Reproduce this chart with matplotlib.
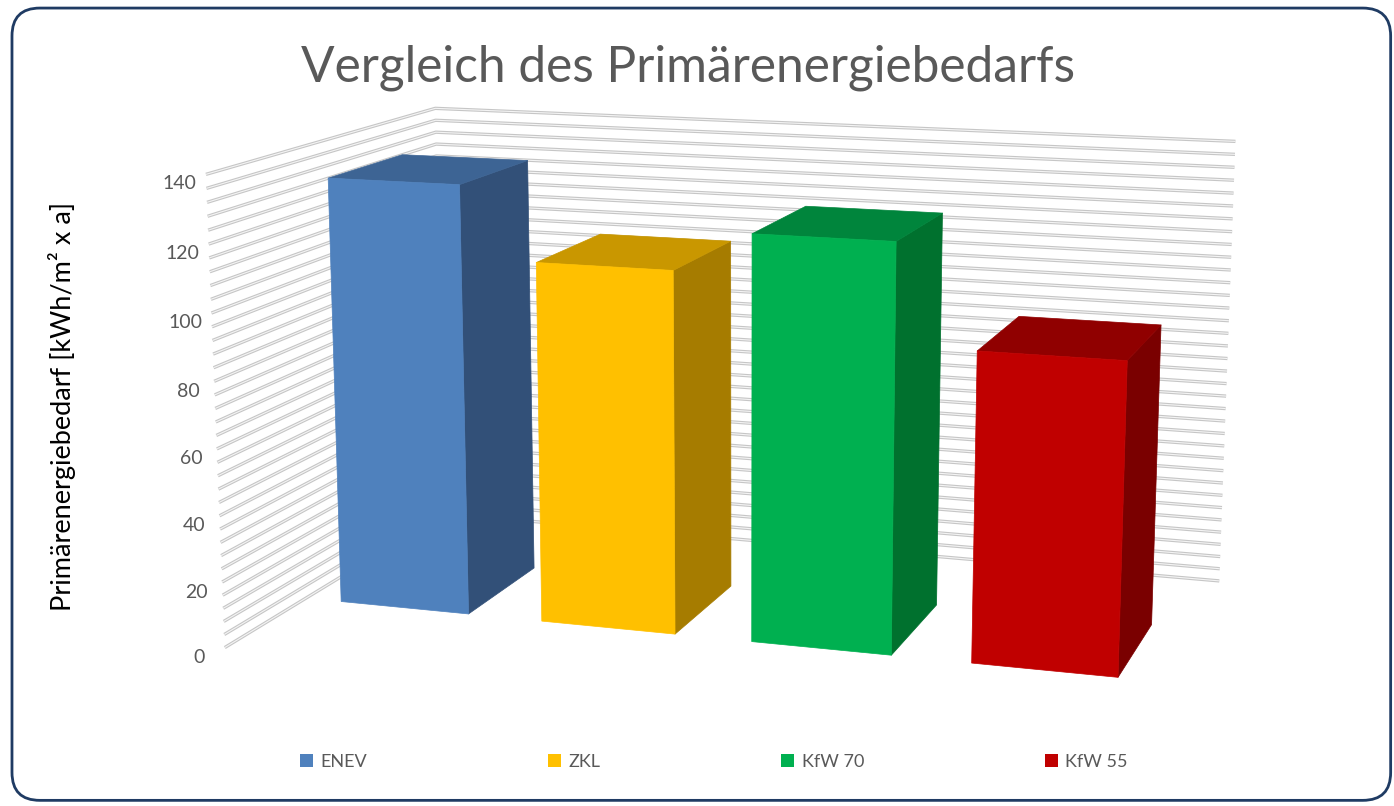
import numpy as np
import matplotlib.pyplot as plt
import matplotlib.patheffects as pe
from matplotlib.patches import FancyBboxPatch, Patch
from mpl_toolkits.mplot3d.art3d import Poly3DCollection

categories = ['ENEV', 'ZKL', 'KfW 70', 'KfW 55']
values = [132, 110, 122, 92]
front_colors = ['#4F81BD', '#FFC000', '#00B050', '#C00000']
top_colors = ['#3D6494', '#C99700', '#00853C', '#900000']
side_colors = ['#325078', '#A67C00', '#00712E', '#7A0000']
z_ticks = np.arange(0, 141, 4)

plt.rcParams['font.family'] = ['Lato', 'DejaVu Sans']
plt.rcParams['grid.color'] = '#F4F4F4'
plt.rcParams['grid.linewidth'] = 0.8

fig = plt.figure(figsize=(13.94, 8.06), dpi=100)

# rounded chart border
fig.patches.append(FancyBboxPatch((0.0086, 0.007), 0.989, 0.983,
                                  boxstyle='round,pad=0,rounding_size=0.02',
                                  mutation_aspect=1394 / 806,
                                  transform=fig.transFigure, fill=False,
                                  edgecolor='#1F3B63', linewidth=2))

fig.text(0.4935, 0.916, 'Vergleich des Primärenergiebedarfs', ha='center', va='center',
         fontsize=35.7, color='#595959')
fig.text(0.0445, 0.496, 'Primärenergiebedarf [kWh/m² x a]', rotation=90,
         ha='center', va='center', fontsize=19.5, color='black')

ax = fig.add_axes([0.085, 0.086, 0.88, 0.84], projection='3d')
ax.set_proj_type('persp', focal_length=0.8)
ax.view_init(elev=12.5, azim=-72)

depth = 3.0
bar_w = 0.64
y0, y1 = depth / 3, 2 * depth / 3
for i, v in enumerate(values):
    x0, x1 = i - bar_w / 2, i + bar_w / 2
    side = [(x1, y0, 0), (x1, y1, 0), (x1, y1, v), (x1, y0, v)]
    top = [(x0, y0, v), (x1, y0, v), (x1, y1, v), (x0, y1, v)]
    front = [(x0, y0, 0), (x1, y0, 0), (x1, y0, v), (x0, y0, v)]
    cols = [side_colors[i], top_colors[i], front_colors[i]]
    ax.add_collection3d(Poly3DCollection([side, top, front], facecolors=cols,
                                         edgecolors=cols, linewidths=0.5, clip_on=False))

ax.set_xlim(-0.5, 3.5)
ax.set_ylim(0, depth)
ax.set_zlim(0, 140)
ax.set_box_aspect((4, 2.4, 2.1), zoom=1.63)

ax.set_xticks([])
ax.set_yticks([])
ax.set_zticks(z_ticks)
ax.set_zticklabels([str(t) if t % 20 == 0 else '' for t in z_ticks])
ax.zaxis.set_ticks_position('lower')
ax.tick_params(axis='z', labelsize=14, labelcolor='#595959', pad=-2)

for axis in (ax.xaxis, ax.yaxis, ax.zaxis):
    axis.set_pane_color((1, 1, 1, 0))
    axis.pane.set_edgecolor('none')
    axis.line.set_color('none')
    axis._axinfo['tick']['inward_factor'] = 0
    axis._axinfo['tick']['outward_factor'] = 0
ax.zaxis.gridlines.set_clip_on(False)
ax.zaxis.gridlines.set_path_effects([pe.Stroke(linewidth=2.4, foreground='#C6C6C6'), pe.Normal()])

handles = [Patch(facecolor=c) for c in front_colors]
fig.legend(handles, categories, loc='center', bbox_to_anchor=(0.512, 0.055), ncol=4,
           frameon=False, fontsize=13, labelcolor='#595959', handlelength=0.75,
           handleheight=0.75, handletextpad=0.4, columnspacing=10)

fig.savefig('out.png', dpi=100)
